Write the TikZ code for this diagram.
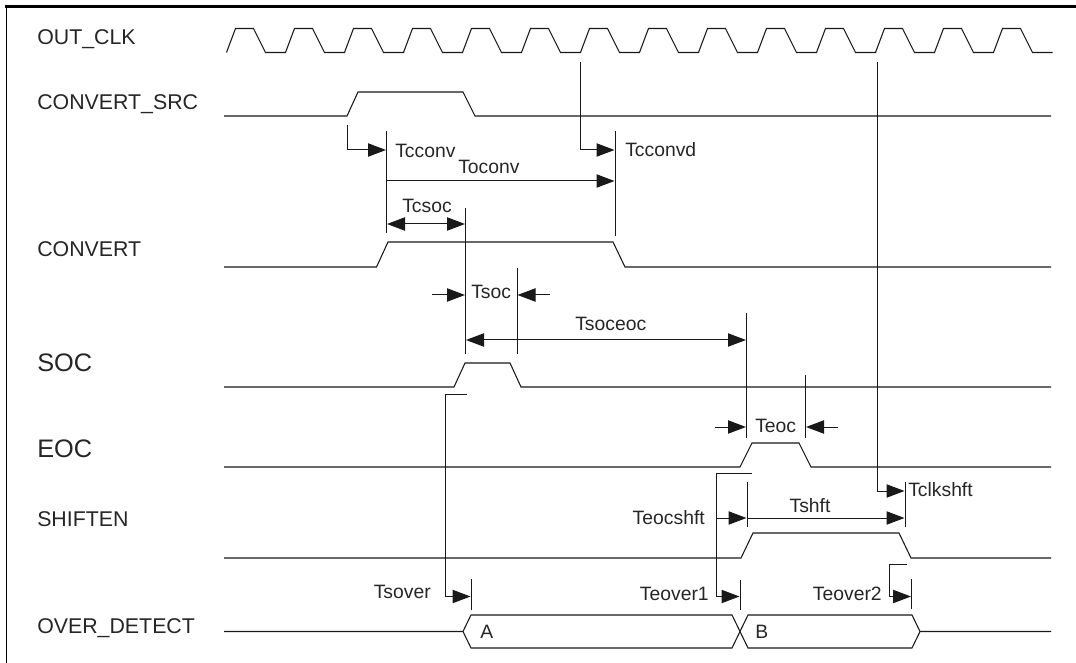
\documentclass[tikz,border=0pt]{standalone}
\usepackage{fontspec}
\setmainfont{Liberation Sans}
\usetikzlibrary{arrows.meta}

\begin{document}
\begin{tikzpicture}[x=0.75pt,y=0.75pt,yscale=-1,xscale=1,
  wave/.style={line width=0.8pt,color=black!90},
  dim/.style={line width=0.75pt,color=black!90},
  tip/.style={-{Triangle[length=13.5pt,width=10pt]}},
  tips/.style={{Triangle[length=13.5pt,width=10pt]}-{Triangle[length=13.5pt,width=10pt]}},
  sig/.style={anchor=west,inner sep=0pt,text=black!85,font=\fontsize{16}{18}\selectfont},
  bigsig/.style={anchor=west,inner sep=0pt,text=black!85,font=\fontsize{19}{22}\selectfont},
  lbl/.style={inner sep=0pt,text=black!85,font=\fontsize{14.5}{16}\selectfont}]
%set diagram size 1076 x 663
\path[use as bounding box] (0,0) rectangle (1076,663);

%Frame
\draw[line width=2.2pt] (5,6.5) -- (1076,6.5);
\draw[line width=0.75pt] (6,6.5) -- (6,663);

%Clock OUT_CLK
\draw[wave] (226.5,52.5) \foreach \k in {0,...,13} { -- ++(9,-24) -- ++(18,0) -- ++(12,24) -- ++(20,0) };
%CONVERT_SRC
\draw[wave] (224,116) -- (347,116) -- (358,92) -- (463,92) -- (475,116) -- (1051,116);
%CONVERT
\draw[wave] (224,267) -- (376.5,267) -- (388,242) -- (613,242) -- (625,267) -- (1051,267);
%SOC
\draw[wave] (224,387) -- (454,387) -- (465,363) -- (510,363) -- (521,387) -- (1051,387);
%EOC
\draw[wave] (224,467) -- (740,467) -- (752,443) -- (799,443) -- (811,467) -- (1051,467);
%SHIFTEN
\draw[wave] (224,558) -- (741,558) -- (753,533) -- (899,533) -- (911,558) -- (1051,558);
%OVER_DETECT
\draw[wave] (224,631.5) -- (463,631.5) -- (471,615) -- (732,615) -- (748,648) -- (912,648) -- (920,631.5) -- (1051,631.5);
\draw[wave] (463,631.5) -- (471,648) -- (732,648) -- (748,615) -- (912,615) -- (920,631.5);

%Ticks
\draw[dim] (386.5,131) -- (386.5,233);
\draw[dim] (615,131) -- (615,236);
\draw[dim] (465.5,208) -- (465.5,354);
\draw[dim] (517,268) -- (517,354);
\draw[dim] (746.5,313) -- (746.5,438);
\draw[dim] (805.5,375) -- (805.5,438);
\draw[dim] (747,482) -- (747,527);
\draw[dim] (905,482) -- (905,527);
\draw[dim] (471,579) -- (471,610);
\draw[dim] (740,580) -- (740,610);
\draw[dim] (911.5,579) -- (911.5,609);

%Bent arrows
\draw[dim,tip] (347,125) -- (347,150) -- (386,150);
\draw[dim,tip] (580.5,62) -- (580.5,150) -- (614.5,150);
\draw[dim,tip] (877.5,62) -- (877.5,491) -- (904.5,491);
\draw[dim,tip] (466.5,395) -- (445,395) -- (445,596.5) -- (470.5,596.5);
\draw[dim,tip] (751.5,473.5) -- (716.5,473.5) -- (716.5,596.5) -- (739.5,596.5);
\draw[dim,tip] (907,564.5) -- (889,564.5) -- (889,596.5) -- (911,596.5);

%Straight arrows
\draw[dim,tip] (386.5,181) -- (614.5,181);
\draw[dim,tips] (387,224) -- (465,224);
\draw[dim,tip] (432,295) -- (465,295);
\draw[dim,tip] (550,295) -- (517.5,295);
\draw[dim,tips] (466,340) -- (746,340);
\draw[dim,tip] (715,427) -- (746,427);
\draw[dim,tip] (838,427) -- (806,427);
\draw[dim,tip] (716.5,518) -- (746.5,518);
\draw[dim,tip] (747,518) -- (904.5,518);

% Signal names
\node[sig] (nOutClk) at (37,39) {OUT\_CLK};
\node[sig] (nConvSrc) at (37,104) {CONVERT\_SRC};
\node[sig] (nConvert) at (37,249) {CONVERT};
\node[bigsig] (nSoc) at (37,363) {SOC};
\node[bigsig] (nEoc) at (37,449) {EOC};
\node[sig] (nShiften) at (37,519) {SHIFTEN};
\node[sig] (nOverDet) at (37,628) {OVER\_DETECT};

% Timing labels
\node[lbl,anchor=west] (tCconv) at (395,151) {Tcconv};
\node[lbl,anchor=west] (tOconv) at (458,167) {Toconv};
\node[lbl,anchor=west] (tCconvd) at (625,150) {Tcconvd};
\node[lbl,anchor=west] (tCsoc) at (402,206) {Tcsoc};
\node[lbl,anchor=west] (tSoc) at (471,292) {Tsoc};
\node[lbl,anchor=west] (tSoceoc) at (575,324) {Tsoceoc};
\node[lbl,anchor=west] (tEoc) at (755,426) {Teoc};
\node[lbl,anchor=west] (tClkshft) at (908,490) {Tclkshft};
\node[lbl] (tShft) at (810,506) {Tshft};
\node[lbl,anchor=east] (tEocshft) at (705,518) {Teocshft};
\node[lbl,anchor=east] (tSover) at (431,592) {Tsover};
\node[lbl,anchor=east] (tEover1) at (709,594) {Teover1};
\node[lbl,anchor=east] (tEover2) at (882,594) {Teover2};
\node[lbl,anchor=west] (busA) at (480,632) {A};
\node[lbl,anchor=west] (busB) at (755,632) {B};

\end{tikzpicture}
\end{document}
